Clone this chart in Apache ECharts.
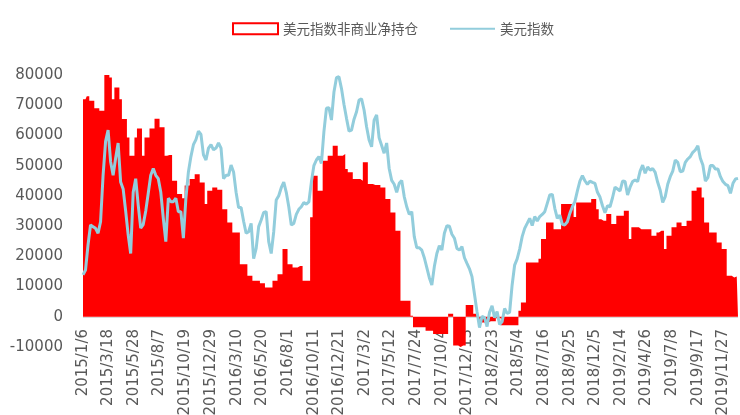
<!DOCTYPE html>
<html>
<head>
<meta charset="utf-8">
<script src="https://cdn.jsdelivr.net/npm/echarts@6/dist/echarts.min.js"></script>
<style>
  html, body { margin: 0; padding: 0; background: #fff; }
  #chart { width: 740px; height: 415px; }
</style>
</head>
<body>
<div id="chart"></div>
<script>
// 周度数据，起点 2015/1/6
const startDate = "2015-01-06";
const seriesNames = ["美元指数非商业净持仓", "美元指数"];

// 美元指数非商业净持仓（张），每周一个值
const netPosition = [
  72000, 72000, 73000, 71500, 71500, 69000, 69000, 68200, 68200,
  80700, 80700, 79200, 72000, 75900, 75900, 72000, 65400, 65400,
  59300, 53300, 53300, 59300, 62300, 62300, 53300, 59300, 59300,
  62300, 62300, 65500, 65500, 62700, 62700, 53300, 53500, 53500,
  45000, 45000, 40600, 40600, 39200, 43400, 43400, 45600, 45600,
  47200, 47200, 44400, 44400, 37300, 41700, 41700, 42800, 42800,
  42000, 42000, 35600, 35600, 31200, 31200, 27900, 27900, 27900,
  17400, 17400, 17400, 13600, 13600, 11900, 11900, 11900, 11100,
  11100, 9700, 9700, 9700, 11900, 11900, 14100, 14100, 22400,
  22400, 17400, 17400, 16300, 16300, 16800, 16800, 11900, 11900,
  11900, 32900, 46700, 46700, 41700, 41700, 51600, 51600, 53300,
  53300, 56600, 56600, 53300, 53300, 53900, 48900, 47800, 47800,
  45600, 45600, 45600, 45000, 51100, 51100, 43900, 43900, 43600,
  43600, 43600, 42800, 42800, 39000, 39000, 34500, 34500, 28500,
  28500, 5300, 5300, 5300, 5300, 300, -3500, -3500, -3500,
  -3500, -3500, -4600, -4600, -4600, -5700, -5700, -5700, -5700,
  -5700, -5700, 1000, 1000, -9500, -9500, -10000, -9500, -9500,
  3900, 3900, 3900, 1000, 1000, -1900, -1900, -1900, -1900,
  -1500, -1500, -1500, -500, -500, -2800, -2800, -2800, -2800,
  -2800, -2800, -2800, 2000, 4700, 4700, 18000, 18000, 18000,
  18000, 18000, 19200, 25700, 25700, 31200, 31200, 31200, 29000,
  29000, 29000, 37300, 37300, 37300, 37300, 37300, 33000, 37800,
  37800, 37800, 37800, 37800, 37800, 39000, 39000, 35600, 32300,
  31800, 31800, 34000, 34000, 30700, 30700, 33400, 33400, 33400,
  35100, 35100, 25700, 29600, 29600, 29600, 29000, 29000, 29000,
  29000, 29000, 26800, 26800, 27900, 28500, 28500, 22400, 26800,
  26800, 29600, 29600, 31200, 31200, 30000, 30000, 31800, 31800,
  41700, 41700, 42800, 42800, 39500, 31200, 31200, 27900, 27900,
  27900, 24600, 24600, 22400, 22400, 13600, 13600, 13000, 13300, 13300
];

// 美元指数，每周一个值（右轴，不显示）
const usdIndex = [
  91.74, 92.03, 93.5, 94.68, 94.58, 94.48, 94.19, 94.87, 97.6,
  99.6, 100.26, 98.4, 97.6, 98.6, 99.5, 97.2, 96.8, 95.5,
  94.1, 93.0, 96.6, 97.4, 95.85, 94.5, 94.7, 95.5, 96.54,
  97.6, 98.0, 97.6, 97.4, 96.6, 95.07, 93.7, 96.25, 96.05,
  96.05, 96.25, 95.46, 95.46, 93.9, 96.25, 97.8, 98.7, 99.4,
  99.7, 100.2, 100.0, 98.8, 98.5, 99.2, 99.4, 99.1, 99.2,
  99.5, 99.2, 97.4, 97.6, 97.6, 98.2, 97.8, 96.6, 95.7,
  95.7, 94.9, 94.19, 94.28, 94.77, 92.7, 93.3, 94.58, 94.97,
  95.42, 95.46, 93.7, 93.0, 94.28, 96.15, 96.4, 96.87, 97.2,
  96.6, 95.75, 94.68, 94.77, 95.3, 95.6, 95.75, 96.0, 95.9,
  96.03, 97.2, 98.17, 98.5, 98.7, 98.3, 100.17, 101.54, 101.58,
  100.85, 102.5, 103.34, 103.4, 102.7, 101.77, 100.95, 100.2, 100.26,
  100.9, 101.34, 102.03, 102.1, 101.44, 100.46, 99.68, 99.28, 100.85,
  101.15, 99.8, 99.35, 98.9, 99.5, 98.0, 97.3, 97.07, 96.6,
  97.13, 97.3, 96.35, 95.75, 95.3, 95.46, 93.99, 93.34, 93.34,
  93.2, 92.75, 92.17, 91.58, 91.15, 92.23, 93.0, 93.46, 93.2,
  94.19, 94.64, 94.6, 94.13, 93.9, 93.3, 93.2, 93.4, 92.75,
  92.42, 92.1, 91.64, 90.6, 89.58, 88.64, 89.3, 89.23, 88.7,
  89.54, 89.93, 89.23, 89.58, 88.83, 88.99, 89.77, 89.48, 89.54,
  91.15, 92.32, 92.68, 93.26, 93.99, 94.48, 94.77, 95.07, 94.64,
  95.17, 94.91, 95.17, 95.3, 95.46, 95.95, 96.44, 96.48, 95.66,
  95.07, 95.26, 94.72, 94.68, 94.87, 95.36, 95.75, 96.05, 96.68,
  97.26, 97.58, 97.28, 97.07, 97.26, 97.19, 97.13, 96.6, 96.32,
  95.81, 95.4, 95.81, 95.75, 96.28, 96.9, 96.79, 96.68, 97.26,
  97.23, 96.44, 96.9, 97.23, 97.32, 97.23, 97.85, 98.2, 97.72,
  98.09, 97.9, 98.0, 97.77, 97.19, 96.72, 96.0, 96.34, 97.07,
  97.52, 97.85, 98.5, 98.36, 97.81, 97.85, 98.36, 98.56, 98.7,
  98.95, 99.09, 99.34, 98.6, 98.2, 97.26, 97.46, 98.17, 98.17,
  97.97, 97.97, 97.52, 97.23, 97.07, 96.99, 96.54, 97.13, 97.38, 97.42
];

// 横轴刻度标签
const tickLabels = [
  "2015/1/6", "2015/3/18", "2015/5/28", "2015/8/7", "2015/10/19", "2015/12/29",
  "2016/3/10", "2016/5/20", "2016/8/1", "2016/10/11", "2016/12/21", "2017/3/2",
  "2017/5/12", "2017/7/24", "2017/10/4", "2017/12/13", "2018/2/23", "2018/5/4",
  "2018/7/16", "2018/9/25", "2018/12/5", "2019/2/14", "2019/4/26", "2019/7/8",
  "2019/9/17", "2019/11/27"
];

const DAY = 86400000;
const toUTC = (s) => {
  const p = s.split(/[-\/]/).map(Number);
  return Date.UTC(p[0], p[1] - 1, p[2]);
};
// 横轴用“天数”做数值轴，方便自定义刻度位置
const t0 = toUTC(startDate);
const toDay = (t) => Math.round((t - t0) / DAY);
const weekDays = netPosition.map((_, i) => i * 7);
const tickDays = tickLabels.map((s) => toDay(toUTC(s)));
const labelMap = {};
tickDays.forEach((d, i) => (labelMap[d] = tickLabels[i]));

const chart = echarts.init(document.getElementById("chart"));
chart.setOption({
  animation: false,
  backgroundColor: "#fff",
  legend: {
    left: 227,
    top: 17,
    itemWidth: 45,
    itemHeight: 11,
    itemGap: 32,
    textStyle: { fontFamily: "Noto Sans CJK SC", fontSize: 13.5, color: "#595959" },
    data: [
      {
        name: seriesNames[0],
        icon: "rect",
        itemStyle: { color: "#fff", borderColor: "#ff0000", borderWidth: 2 },
      },
      { name: seriesNames[1], icon: "path://M0,0L45,0L45,2L0,2Z" },
    ],
  },
  grid: { left: 83, right: 2, top: 75, bottom: 68, outerBoundsMode: "none" },
  xAxis: {
    type: "value",
    z: 0,
    min: 0,
    max: weekDays[weekDays.length - 1],
    axisLine: { show: false, onZero: false },
    axisTick: { show: false },
    splitLine: { show: false },
    axisLabel: {
      customValues: tickDays,
      rotate: 90,
      margin: -18, // 标签贴着 0 轴，而不是图表底边
      fontFamily: "DejaVu Sans",
      fontSize: 15,
      color: "#595959",
      formatter: (v) => labelMap[v] || "",
    },
  },
  yAxis: [
    {
      type: "value",
      min: -10000,
      max: 80000,
      interval: 10000,
      axisLine: { show: false },
      axisTick: { show: false },
      splitLine: { show: false },
      axisLabel: {
        margin: 20,
        fontFamily: "DejaVu Sans",
        fontSize: 15,
        color: "#595959",
        formatter: (v) => String(v),
      },
    },
    { type: "value", min: 87.5, max: 103.5, show: false, splitLine: { show: false } },
  ],
  series: [
    {
      name: seriesNames[0],
      type: "line",
      z: 10,
      step: "middle",
      symbol: "none",
      color: "#ff0000",
      lineStyle: { width: 0 },
      areaStyle: { color: "#ff0000", opacity: 1 },
      data: weekDays.map((d, i) => [d, netPosition[i]]),
      // 0 轴线
      markLine: {
        silent: true,
        symbol: "none",
        label: { show: false },
        lineStyle: { color: "#d9d9d9", width: 1, type: "solid" },
        data: [{ yAxis: 0 }],
      },
    },
    {
      name: seriesNames[1],
      type: "line",
      z: 11,
      yAxisIndex: 1,
      symbol: "none",
      color: "#92cddc",
      lineStyle: { width: 3, color: "#92cddc" },
      data: weekDays.map((d, i) => [d, usdIndex[i]]),
    },
  ],
});
</script>
</body>
</html>
